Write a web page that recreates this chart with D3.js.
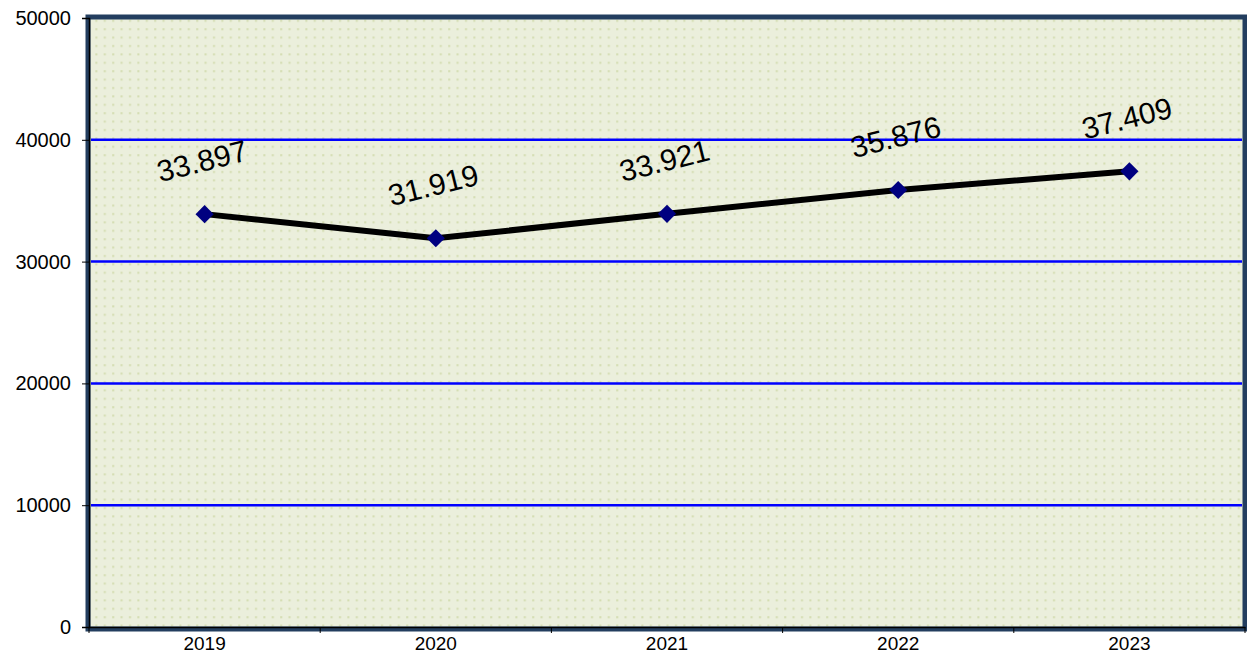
<!DOCTYPE html>
<html>
<head>
<meta charset="utf-8">
<script src="https://cdn.jsdelivr.net/npm/d3@7"></script>
<style>
  body { margin: 0; background: #fff; }
  text { font-family: Arial, "Liberation Sans", sans-serif; }
</style>
</head>
<body>
<svg id="chart" width="1247" height="657"></svg>
<script>
// data
var years = ["2019", "2020", "2021", "2022", "2023"];
var values = [33897, 31919, 33921, 35876, 37409];
var labels = ["33.897", "31.919", "33.921", "35.876", "37.409"];
var yTicks = [0, 10000, 20000, 30000, 40000, 50000];

var svg = d3.select("#chart");
var plotL = 89, plotR = 1245, plotT = 18, plotB = 627;

var x = d3.scaleBand().domain(years).range([plotL, plotR]);
var y = d3.scaleLinear().domain([0, 50000]).range([plotB, plotT]);

// dotted background
var defs = svg.append("defs");
var pat = defs.append("pattern")
  .attr("id", "dots")
  .attr("patternUnits", "userSpaceOnUse")
  .attr("width", 8.4).attr("height", 8.4);
pat.append("rect").attr("width", 8.4).attr("height", 8.4).attr("fill", "#ebefdc");
pat.append("rect").attr("x", 3).attr("y", 3).attr("width", 2).attr("height", 2).attr("fill", "#d3dcb0");

// frame
svg.append("rect")
  .attr("x", plotL - 1).attr("y", plotT - 1)
  .attr("width", plotR - plotL + 1).attr("height", plotB - plotT + 3)
  .attr("fill", "url(#dots)")
  .attr("stroke", "#233e5f").attr("stroke-width", 5);

// grid lines
svg.append("g").selectAll("line")
  .data(yTicks.filter(function(d){ return d > 0 && d < 50000; }))
  .enter().append("line")
  .attr("x1", plotL + 2).attr("x2", plotR - 3)
  .attr("y1", function(d){ return y(d); }).attr("y2", function(d){ return y(d); })
  .attr("stroke", "#0000ff").attr("stroke-width", 2.5);

// y axis
var yAxis = svg.append("g")
  .attr("transform", "translate(" + plotL + ",0)")
  .call(d3.axisLeft(y).tickValues(yTicks).tickSize(7).tickPadding(11).tickFormat(d3.format("d")));
yAxis.select(".domain").attr("stroke", "#000").attr("stroke-width", 1.5);
yAxis.selectAll(".tick line").attr("stroke", "#000");
yAxis.selectAll("text").attr("font-size", 20).attr("fill", "#000")
  .style("font-family", "Arial, 'Liberation Sans', sans-serif");

// x axis
var xAxis = svg.append("g")
  .attr("transform", "translate(0," + plotB + ")")
  .call(d3.axisBottom(x).tickSize(0).tickPadding(10));
xAxis.select(".domain").attr("stroke", "#000").attr("stroke-width", 1.5);
xAxis.selectAll("text").attr("font-size", 19).attr("fill", "#000")
  .style("font-family", "Arial, 'Liberation Sans', sans-serif");
// tick marks sit on the band edges
xAxis.selectAll(".edge")
  .data(years)
  .enter().append("line")
  .attr("class", "edge")
  .attr("x1", function(d){ return x(d) + x.bandwidth(); })
  .attr("x2", function(d){ return x(d) + x.bandwidth(); })
  .attr("y1", 0).attr("y2", 6)
  .attr("stroke", "#000");
xAxis.append("line").attr("x1", plotL).attr("x2", plotL).attr("y1", 0).attr("y2", 6).attr("stroke", "#000");

// line
var pts = years.map(function(d, i){ return [x(d) + x.bandwidth() / 2, y(values[i])]; });
svg.append("path")
  .attr("d", d3.line()(pts))
  .attr("fill", "none")
  .attr("stroke", "#000")
  .attr("stroke-width", 6)
  .attr("stroke-linejoin", "round");

// markers
svg.append("g").selectAll("path")
  .data(pts)
  .enter().append("path")
  .attr("d", d3.symbol().type(d3.symbolDiamond2).size(210))
  .attr("transform", function(d){ return "translate(" + d[0] + "," + d[1] + ")"; })
  .attr("fill", "#000080");

// value labels, tilted
svg.append("g").selectAll("text")
  .data(pts)
  .enter().append("text")
  .attr("transform", function(d){ return "translate(" + d[0] + "," + (d[1] - 43) + ") rotate(-14)"; })
  .attr("text-anchor", "middle")
  .attr("font-size", 30)
  .attr("fill", "#000")
  .text(function(d, i){ return labels[i]; });
</script>
</body>
</html>
